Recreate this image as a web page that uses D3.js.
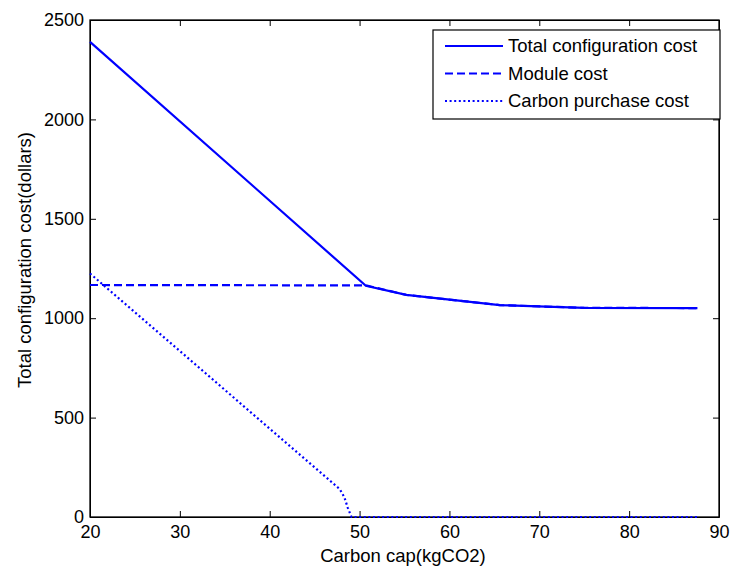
<!DOCTYPE html>
<html>
<head>
<meta charset="utf-8">
<script src="https://cdn.jsdelivr.net/npm/d3@7"></script>
<style>
  body { margin: 0; background: #fff; }
  svg { font-family: "Liberation Sans", Arial, sans-serif; }
  .tick text { font-size: 18px; fill: #000; }
</style>
</head>
<body>
<svg id="chart" width="731" height="569"></svg>
<script>
"use strict";

// values
let totalCap = [20, 50.7, 55.2, 65.6, 75, 87.6];
let totalCost = [2390, 1163, 1117, 1066, 1052, 1051];
let moduleCap = [20, 50.7, 55.2, 65.6, 75, 87.6];
let moduleCost = [1167, 1165, 1117, 1066, 1052, 1051];
let carbonCap = [20, 47.8, 48.3, 48.7, 49.1, 87.6];
let carbonCost = [1225, 140, 100, 45, 0, 0];

let xTicks = [20, 30, 40, 50, 60, 70, 80, 90];
let yTicks = [0, 500, 1000, 1500, 2000, 2500];

let seriesNames = ['Total configuration cost', 'Module cost', 'Carbon purchase cost'];
let dashes = [null, '8,4', '2,2.6'];

let margin = { left: 90, top: 20, right: 12, bottom: 52 };
let width = 731, height = 569;
let plotW = width - margin.left - margin.right;
let plotH = height - margin.top - margin.bottom;

let svg = d3.select('#chart');
let g = svg.append('g')
  .attr('transform', `translate(${margin.left},${margin.top})`);

let x = d3.scaleLinear().domain([20, 90]).range([0, plotW]);
let y = d3.scaleLinear().domain([0, 2500]).range([plotH, 0]);
let fmt = d3.format('d');

// axes with inward ticks, mirrored on top and right
g.append('g')
  .attr('transform', `translate(0,${plotH})`)
  .call(d3.axisBottom(x).tickValues(xTicks).tickFormat(fmt).tickSizeInner(-6).tickSizeOuter(0).tickPadding(8));
g.append('g')
  .call(d3.axisTop(x).tickValues(xTicks).tickSizeInner(-6).tickSizeOuter(0).tickFormat(''));
g.append('g')
  .call(d3.axisLeft(y).tickValues(yTicks).tickFormat(fmt).tickSizeInner(-6).tickSizeOuter(0).tickPadding(6));
g.append('g')
  .attr('transform', `translate(${plotW},0)`)
  .call(d3.axisRight(y).tickValues(yTicks).tickSizeInner(-6).tickSizeOuter(0).tickFormat(''));

g.selectAll('.domain').attr('stroke', '#000');
g.selectAll('.tick line').attr('stroke', '#000');

g.append('rect')
  .attr('width', plotW)
  .attr('height', plotH)
  .attr('fill', 'none')
  .attr('stroke', '#000')
  .attr('stroke-width', 1.3);

let line = d3.line()
  .x(d => x(d[0]))
  .y(d => y(d[1]));

let series = [
  d3.zip(totalCap, totalCost),
  d3.zip(moduleCap, moduleCost),
  d3.zip(carbonCap, carbonCost),
];

// draw module and carbon below total
[1, 2, 0].forEach(i => {
  g.append('path')
    .datum(series[i])
    .attr('d', line)
    .attr('fill', 'none')
    .attr('stroke', '#0000ff')
    .attr('stroke-width', 2.2)
    .attr('stroke-dasharray', dashes[i]);
});

// axis labels
svg.append('text')
  .attr('x', 403)
  .attr('y', 562)
  .attr('text-anchor', 'middle')
  .style('font-size', '18.5px')
  .text('Carbon cap(kgCO2)');

svg.append('text')
  .attr('transform', `translate(31,260) rotate(-90)`)
  .attr('text-anchor', 'middle')
  .style('font-size', '18.5px')
  .text('Total configuration cost(dollars)');

// legend
let legend = svg.append('g').attr('transform', 'translate(433,30)');
legend.append('rect')
  .attr('width', 287)
  .attr('height', 89)
  .attr('fill', '#fff')
  .attr('stroke', '#000')
  .attr('stroke-width', 1.2);

seriesNames.forEach((name, i) => {
  let row = legend.append('g').attr('transform', `translate(0,${16 + i * 27.5})`);
  row.append('line')
    .attr('x1', 12).attr('x2', 70)
    .attr('y1', 0).attr('y2', 0)
    .attr('stroke', '#0000ff')
    .attr('stroke-width', 2.2)
    .attr('stroke-dasharray', dashes[i]);
  row.append('text')
    .attr('x', 75)
    .attr('y', 6)
    .style('font-size', '18.5px')
    .text(name);
});
</script>
</body>
</html>
